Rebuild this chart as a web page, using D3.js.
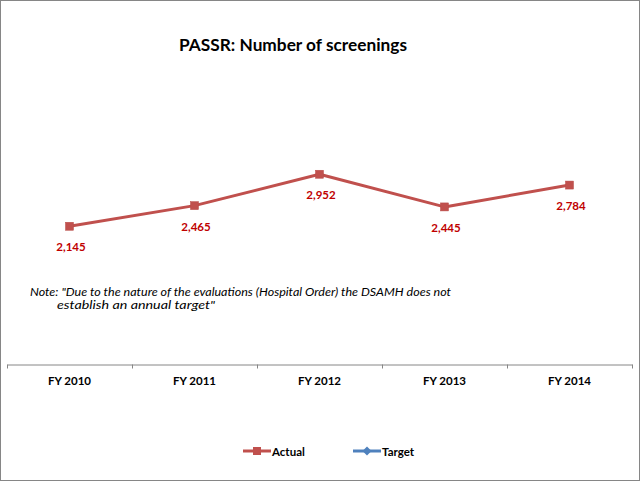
<!DOCTYPE html>
<html><head><meta charset="utf-8">
<script src="https://cdn.jsdelivr.net/npm/d3@7"></script>
<style>html,body{margin:0;padding:0;background:#fff;}svg{display:block;}</style>
</head><body>
<script>
const categories = ["FY 2010","FY 2011","FY 2012","FY 2013","FY 2014"];
const actualValues = [2145, 2465, 2952, 2445, 2784];
const seriesNames = ["Actual","Target"];
const titleText = "PASSR: Number of screenings";
const noteLines = ["Note:  \"Due to the nature of the evaluations (Hospital Order) the DSAMH does not", "establish an annual target\""];

const W = 640, H = 481;
const svg = d3.select("body").append("svg").attr("width", W).attr("height", H);
svg.append("rect").attr("x",0.5).attr("y",0.5).attr("width",W-1).attr("height",H-1)
  .attr("fill","#fff").attr("stroke","#868686").attr("stroke-width",1);

const font = "Lato, 'Open Sans', sans-serif";
const x = d3.scaleBand().domain(categories).range([7, 632]);
const y = d3.scaleLinear().domain([0, 4000]).range([364.5, 106.7]);

svg.append("text").attr("x", 293).attr("y", 50.5).attr("text-anchor","middle")
  .attr("font-family", font).attr("font-weight","bold").attr("font-size",17)
  .attr("fill","#000").attr("textLength",228).attr("lengthAdjust","spacingAndGlyphs").text(titleText);

// axis
const axisG = svg.append("g").attr("transform","translate(0,364.5)");
const ax = d3.axisBottom(x).tickSize(0).tickPadding(0);
axisG.call(ax);
axisG.select(".domain").attr("stroke","#868686").attr("stroke-width",1);
axisG.selectAll(".tick text").attr("font-family",font).attr("font-weight","bold").attr("font-size",11.5)
  .attr("fill","#000").attr("dy",0).attr("y",20.5);
// category boundary tick marks
const bounds = categories.map(c => x(c)).concat([x(categories[categories.length-1]) + x.bandwidth()]);
axisG.selectAll("line.bt").data(bounds).enter().append("line").attr("class","bt")
  .attr("x1", d => Math.round(d)+0.5).attr("x2", d => Math.round(d)+0.5)
  .attr("y1",0).attr("y2",4).attr("stroke","#868686");

const cx = c => x(c) + x.bandwidth()/2;
const red = "#C0504D";
const line = d3.line().x((d,i) => cx(categories[i])).y(d => y(d));
svg.append("path").datum(actualValues).attr("d", line).attr("fill","none")
  .attr("stroke", red).attr("stroke-width",3).attr("stroke-linejoin","round");
svg.selectAll("rect.mk").data(actualValues).enter().append("rect").attr("class","mk")
  .attr("x",(d,i)=>cx(categories[i])-4).attr("y",d=>y(d)-4).attr("width",8).attr("height",8)
  .attr("fill",red).attr("stroke","#B84A47").attr("stroke-width",0.5);
svg.selectAll("text.lbl").data(actualValues).enter().append("text").attr("class","lbl")
  .attr("x",(d,i)=>cx(categories[i])+1.5).attr("y",d=>y(d)+25).attr("text-anchor","middle")
  .attr("font-family",font).attr("font-weight","bold").attr("font-size",11.5).attr("fill","#C00000")
  .text(d => d3.format(",")(d));

// note
svg.append("text").attr("x",30).attr("y",295.5).attr("font-family",font).attr("font-style","italic")
  .attr("font-size",11).attr("fill","#000").attr("textLength",421).attr("lengthAdjust","spacingAndGlyphs").text(noteLines[0]);
svg.append("text").attr("x",57).attr("y",309).attr("font-family",font).attr("font-style","italic")
  .attr("font-size",11).attr("fill","#000").attr("textLength",158).attr("lengthAdjust","spacingAndGlyphs").text(noteLines[1]);

// legend
const legendData = [{name: seriesNames[0], color: red, x0: 243, shape: "square"},
                    {name: seriesNames[1], color: "#4F81BD", x0: 353, shape: "diamond"}];
const lg = svg.selectAll("g.lg").data(legendData).enter().append("g").attr("class","lg")
  .attr("transform", d => `translate(${d.x0},451)`);
lg.append("line").attr("x1",0).attr("x2",28).attr("y1",0).attr("y2",0)
  .attr("stroke",d=>d.color).attr("stroke-width",3);
lg.append("path").attr("transform","translate(14,0)")
  .attr("d", d => d.shape === "square" ? "M-4,-4H4V4H-4Z" : "M0,-4.5L4.5,0L0,4.5L-4.5,0Z")
  .attr("fill", d=>d.color);
lg.append("text").attr("x",29).attr("y",4.5).attr("font-family",font).attr("font-weight","bold")
  .attr("font-size",11.5).attr("fill","#000").text(d=>d.name);
</script>
</body></html>
